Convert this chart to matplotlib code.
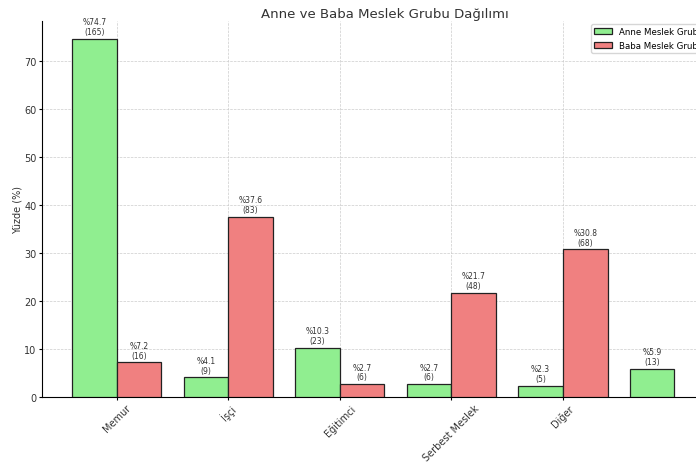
import numpy as np
import matplotlib
matplotlib.use("Agg")
import matplotlib.pyplot as plt

categories = ["Memur", "İşçi", "Eğitimci", "Serbest Meslek", "Diğer"]
anne_pct = [74.7, 4.1, 10.3, 2.7, 2.3, 5.9]
anne_n = [165, 9, 23, 6, 5, 13]
baba_pct = [7.2, 37.6, 2.7, 21.7, 30.8]
baba_n = [16, 83, 6, 48, 68]

fig = plt.figure(figsize=(6.96, 4.64), dpi=100)
ax = fig.add_axes([42/696, 1-398/464, 686/696, 376/464])

w = 0.4
xa = np.arange(len(anne_pct))
xb = np.arange(len(baba_pct))
ba = ax.bar(xa - w/2, anne_pct, w, color="#90EE90", edgecolor="#222222", linewidth=0.9, label="Anne Meslek Grubu", zorder=3)
bb = ax.bar(xb + w/2, baba_pct, w, color="#F08080", edgecolor="#222222", linewidth=0.9, label="Baba Meslek Grubu", zorder=3)

for bars, pcts, ns in ((ba, anne_pct, anne_n), (bb, baba_pct, baba_n)):
    for r, p, n in zip(bars, pcts, ns):
        ax.annotate(f"%{p}\n({n})", (r.get_x() + r.get_width()/2, r.get_height()),
                    xytext=(0, 2), textcoords="offset points", ha="center", va="bottom",
                    fontsize=5.5, color="#333333", linespacing=1.1)

ax.set_xticks(np.arange(len(categories)))
ax.set_xticklabels(categories, rotation=45, ha="center", fontsize=7, color="#333333")
ax.tick_params(axis="both", length=2.5, pad=1.5, labelsize=7, labelcolor="#333333")
ax.set_ylabel("Yüzde (%)", fontsize=7, color="#333333", labelpad=1)
ax.set_title("Anne ve Baba Meslek Grubu Dağılımı", fontsize=9.5, color="#333333", pad=3)
ax.set_xlim(-0.67, 5.48)
ax.set_ylim(0, 78.4)
ax.grid(True, linestyle="--", linewidth=0.5, color="#cccccc", zorder=0)
ax.spines["top"].set_visible(False)
ax.spines["right"].set_visible(False)
ax.legend(loc="upper left", bbox_to_anchor=(591/696, 1-25/464), bbox_transform=fig.transFigure,
          fontsize=6.2, frameon=True, borderaxespad=0)

fig.savefig("out.png", dpi=100)
